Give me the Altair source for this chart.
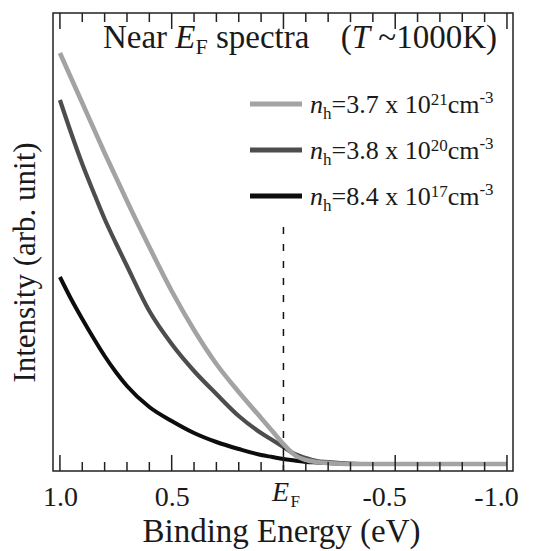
import altair as alt
import pandas as pd

# ---------------- data ----------------
energy = [1.0, 0.95, 0.9, 0.85, 0.8, 0.75, 0.7, 0.6, 0.5, 0.4, 0.3, 0.2, 0.1, 0.05,
          0.0, -0.05, -0.1, -0.15, -0.2, -0.3, -0.4, -0.5, -0.6, -0.7, -0.8, -0.9, -1.0]
light = [418, 393, 368, 343, 318, 294, 270, 224, 180, 141, 107, 79, 53, 40,
         27, 16, 11, 9, 8, 7, 7, 7, 7, 7, 7, 7, 7]
dark = [371, 338, 307, 279, 252, 228, 205, 160, 127, 100, 77, 55, 38, 31,
        24, 17, 13, 10, 9, 7.5, 7, 7, 7, 7, 7, 7, 7]
black = [194, 172, 152, 133, 115, 99, 85, 64, 50, 38, 29, 22, 16, 14,
         12, 10.5, 9, 8.5, 8, 7, 7, 7, 7, 7, 7, 7, 7]

mantissas = ["3.7", "3.8", "8.4"]
exponents = ["21", "20", "17"]
colors = ["#a3a3a3", "#4d4d4d", "#0d0d0d"]

major_ticks = [1.0, 0.5, 0.0, -0.5, -1.0]
minor_ticks = [0.9, 0.8, 0.7, 0.6, 0.4, 0.3, 0.2, 0.1,
               -0.1, -0.2, -0.3, -0.4, -0.6, -0.7, -0.8, -0.9]
x_domain = [1.031, -1.027]
y_domain = [0, 458]
ef_line = [0, 244]

W, H = 460, 458
FONT = "Liberation Serif, Times New Roman, Times, serif"
TXT = "#1a1a1a"

xs = alt.Scale(domain=x_domain, nice=False, zero=False)
ys = alt.Scale(domain=y_domain, nice=False, zero=False)

x_axis = alt.Axis(
    values=major_ticks,
    labelExpr="datum.value == 0 ? '' : (datum.value < 0 ? '-' + format(-datum.value, '.1f') : format(datum.value, '.1f'))",
    labelOffset={"condition": {"test": "datum.value < 0", "value": -11}, "value": 0},
    ticks=False, tickSize=0, domain=False, grid=False,
    labelFont=FONT, labelFontSize=28, labelColor=TXT, labelPadding=34,
    labelBaseline="alphabetic", labelFlush=False, labelOverlap=False,
    title="Binding Energy (eV)", titleFont=FONT, titleFontSize=33,
    titleFontWeight="normal", titleColor=TXT, titleBaseline="alphabetic",
    titleY=70, titleX=W / 2 - 2, titleAlign="center",
)
y_axis = alt.Axis(
    ticks=False, labels=False, domain=False, grid=False,
    title="Intensity (arb. unit)", titleFont=FONT, titleFontSize=31,
    titleFontWeight="normal", titleColor=TXT, titleAngle=270,
    titleAlign="center", titleBaseline="middle", titleX=-28, titleY=249,
)
x_enc = alt.X("energy:Q", scale=xs, axis=x_axis)
y_enc = alt.Y("intensity:Q", scale=ys, axis=y_axis)

layers = []

# curves (black first so the lighter ones sit on top at the baseline)
for vals, col, sw in [(black, colors[2], 4), (dark, colors[1], 4.2), (light, colors[0], 4.6)]:
    df = pd.DataFrame({"energy": energy, "intensity": vals})
    layers.append(
        alt.Chart(df).mark_line(color=col, strokeWidth=sw, interpolate="monotone")
        .encode(x=x_enc, y=y_enc)
    )

# E_F dashed line
ef_df = pd.DataFrame({"energy": [0.0], "intensity": [ef_line[1]], "intensity2": [ef_line[0]]})
layers.append(
    alt.Chart(ef_df).mark_rule(color="#111", strokeWidth=1.5, strokeDash=[7, 10])
    .encode(x=x_enc, y=y_enc, y2="intensity2:Q")
)

# inward ticks, bottom and top
for vals, ln in [(major_ticks, 16), (minor_ticks, 9)]:
    tdf = pd.DataFrame({"energy": vals})
    layers.append(alt.Chart(tdf).mark_rule(color="#222", strokeWidth=1.5)
                  .encode(x=x_enc, y=alt.value(H), y2=alt.value(H - ln)))
    layers.append(alt.Chart(tdf).mark_rule(color="#222", strokeWidth=1.5)
                  .encode(x=x_enc, y=alt.value(0), y2=alt.value(ln)))

# E_F tick label
ef_lab = pd.DataFrame({"energy": [0.0], "t": ["E"], "s": ["F"]})
layers.append(alt.Chart(ef_lab).mark_text(font=FONT, fontSize=28, fontStyle="italic",
                                          color=TXT, align="center", baseline="alphabetic", dx=-3)
              .encode(x=x_enc, y=alt.value(488), text="t:N"))
layers.append(alt.Chart(ef_lab).mark_text(font=FONT, fontSize=17, color=TXT,
                                          align="left", baseline="alphabetic", dx=7)
              .encode(x=x_enc, y=alt.value(494), text="s:N"))

# ---------------- rich text helpers ----------------
REG = {" ": 250, "(": 333, ")": 333, ".": 250, "=": 564, "~": 541, "-": 333,
       "K": 722, "N": 722, "a": 444, "c": 444, "e": 444, "m": 778, "p": 500,
       "r": 333, "s": 389, "t": 278, "x": 500, "h": 500, "F": 556}
ITA = {"E": 611, "T": 556, "n": 500}


def tw(s, fs, italic=False):
    tbl = ITA if italic else REG
    return sum(tbl.get(ch, 500) for ch in s) * fs / 1000.0


def rich(pieces, x0, y0, anchor="left"):
    # pieces: (text, size, italic, dy, gap_em_before)
    total = 0
    for t, fs, it, dy, gap in pieces:
        total += gap * fs + tw(t, fs, it)
    x = x0 - (total / 2 if anchor == "center" else 0)
    out = []
    for t, fs, it, dy, gap in pieces:
        x += gap * fs
        out.append(
            alt.Chart(pd.DataFrame({"t": [t]})).mark_text(
                font=FONT, fontSize=fs, fontStyle="italic" if it else "normal",
                color=TXT, align="left", baseline="alphabetic")
            .encode(x=alt.value(x), y=alt.value(y0 + dy), text="t:N")
        )
        x += tw(t, fs, it)
    return out


T, S = 33, 22
title_pieces = [("Near", T, False, 0, 0), ("E", T, True, 0, 0.25), ("F", S, False, 6, 0),
                ("spectra", T, False, 0, 0.25), ("(", T, False, 0, 0.95),
                ("T", T, True, 0, 0), ("~1000K)", T, False, 0, 0.25)]
layers += rich(title_pieces, 247, 35, anchor="center")

# legend
L, LS = 26, 17
leg_y = [91, 137, 183]
for i in range(3):
    layers.append(alt.Chart(pd.DataFrame({"k": [i]})).mark_rule(color=colors[i], strokeWidth=5)
                  .encode(x=alt.value(197), x2=alt.value(249), y=alt.value(leg_y[i])))
    pcs = [("n", L, True, 0, 0), ("h", LS, False, 6, 0),
           ("=" + mantissas[i] + " x 10", L, False, 0, 0),
           (exponents[i], LS, False, -8, 0), ("cm", L, False, 0, 0),
           ("-3", LS, False, -10, 0)]
    layers += rich(pcs, 257, leg_y[i] + 9)

chart = alt.layer(*layers).properties(
    width=W, height=H,
    autosize=alt.AutoSizeParams(type="none"),
    padding={"left": 45, "top": 5, "right": 12, "bottom": 80},
).configure_view(stroke="#222", strokeWidth=1.5)

chart.save("out.html", embed_options={"renderer": "svg", "actions": False})
